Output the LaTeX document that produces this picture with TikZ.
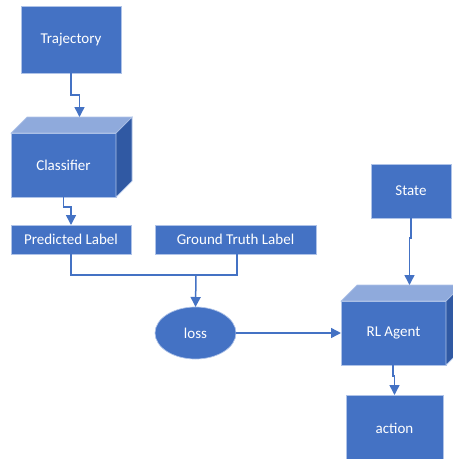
\documentclass[tikz,border=0pt]{standalone}
\usepackage{fontspec}
\setmainfont{Carlito}
\usetikzlibrary{arrows.meta,calc,shapes.geometric}
\definecolor{ofblue}{HTML}{4472C4}
\definecolor{ofborder}{HTML}{AFC3E8}
\definecolor{oftop}{HTML}{8FAADC}
\definecolor{ofside}{HTML}{3059A3}
\tikzset{
  box/.style={rectangle,fill=ofblue,draw=ofborder,line width=0.7pt,inner sep=0pt,outer sep=0pt,
    text=white,font=\fontsize{15}{18}\selectfont},
  ovalbox/.style={ellipse,fill=ofblue,draw=ofborder,line width=0.7pt,inner sep=0pt,outer sep=0pt,
    text=white,font=\fontsize{15}{18}\selectfont},
  topface/.style={fill=oftop,draw=ofborder,line width=0.7pt},
  sideface/.style={fill=ofside,draw=ofborder,line width=0.7pt},
  conn/.style={draw=ofblue,line width=1.5pt},
  arr/.style={conn,-{Triangle[length=10pt,width=10pt]}}
}
\begin{document}
\begin{tikzpicture}[x=1pt,y=-1pt]
\useasboundingbox (0,0) rectangle (453,459);
\clip (0,0) rectangle (453,459);
% nodes
\node[box,minimum width=100pt,minimum height=67pt] (traj) at (71,39.5) {Trajectory};
\node[box,minimum width=105pt,minimum height=64pt] (cls) at (63.5,165) {};
\node[box,minimum width=120pt,minimum height=29pt] (pred) at (71,239.5) {Predicted Label};
\node[box,minimum width=161pt,minimum height=29pt] (gt) at (235.5,239.5) {Ground Truth Label};
\node[ovalbox,minimum width=81pt,minimum height=52pt] (loss) at (195.5,333) {loss};
\node[box,minimum width=80pt,minimum height=54pt] (state) at (411,191) {State};
\node[box,minimum width=105pt,minimum height=64pt] (rl) at (393.5,333) {};
\node[box,minimum width=97pt,minimum height=66pt] (act) at (394.5,428) {action};
% cube faces
\draw[topface] (cls.north west) -- ++(16,-16) -- ($(cls.north east)+(16,-16)$) -- (cls.north east) -- cycle;
\draw[sideface] (cls.north east) -- ++(16,-16) -- ($(cls.south east)+(16,-16)$) -- (cls.south east) -- cycle;
\node[text=white,font=\fontsize{15}{18}\selectfont] (clstext) at (cls.center) {Classifier};
\draw[topface] (rl.north west) -- ++(16,-16) -- ($(rl.north east)+(16,-16)$) -- (rl.north east) -- cycle;
\draw[sideface] (rl.north east) -- ++(16,-16) -- ($(rl.south east)+(16,-16)$) -- (rl.south east) -- cycle;
\node[text=white,font=\fontsize{15}{18}\selectfont] (rltext) at (rl.center) {RL Agent};
% coordinates
\coordinate (clstop) at ($(cls.north)+(16,-16)$);
\coordinate (rltop) at ($(rl.north)+(16,-16)$);
\coordinate (merge) at (196,275);
% connectors
\draw[arr] (traj.south) -- ++(0,22) -| (clstop);
\draw[arr] (cls.south) -- ++(0,10) -| (pred.north);
\draw[conn] (pred.south) |- (merge) -| ($(gt.south)+(1.5,0)$);
\draw[arr] (merge) -- (loss.north);
\draw[arr] (loss.east) -- (rl.west);
\draw[arr] (state.south) -- ++(0,20) -| (rltop);
\draw[arr] ($(rl.south)+(-0.5,0)$) -- ++(0,11) -| (act.north);
\end{tikzpicture}
\end{document}
